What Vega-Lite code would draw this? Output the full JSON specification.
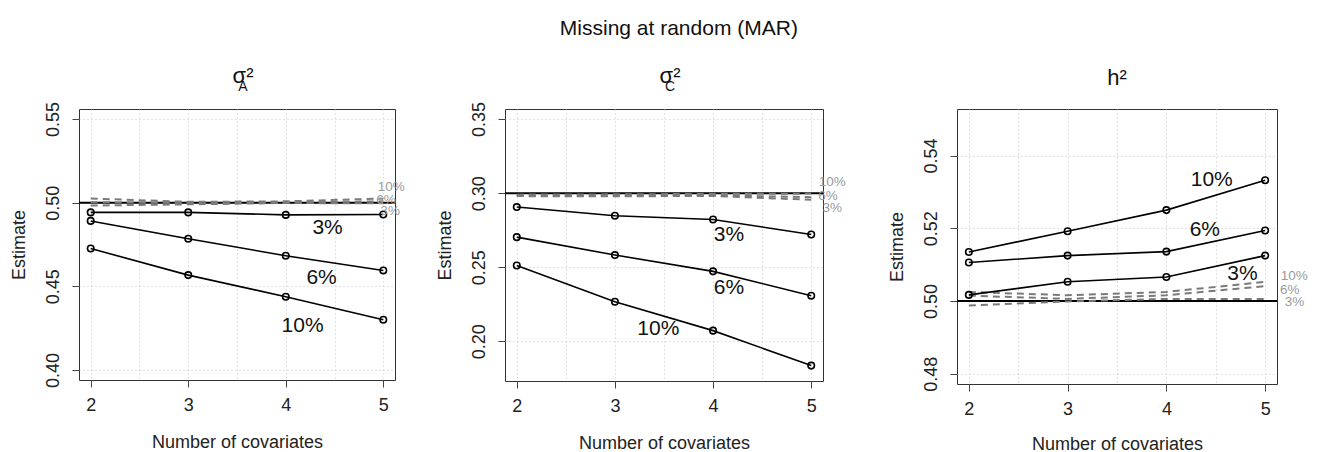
{
  "$schema": "https://vega.github.io/schema/vega-lite/v6.json",
  "padding": {"left": 9, "top": 18, "right": 0, "bottom": 0},
  "background": "white",
  "title": {"text": "Missing at random (MAR)", "fontSize": 21, "fontWeight": "normal", "font": "Liberation Sans", "anchor": "middle", "offset": 25, "dx": 20, "color": "#111"},
  "datasets": {
    "lines": [
      {"p": "A", "t": "solid", "s": "3%", "x": 2, "y": 0.4942},
      {"p": "A", "t": "solid", "s": "3%", "x": 3, "y": 0.4942},
      {"p": "A", "t": "solid", "s": "3%", "x": 4, "y": 0.4927},
      {"p": "A", "t": "solid", "s": "3%", "x": 5, "y": 0.4929},
      {"p": "A", "t": "solid", "s": "6%", "x": 2, "y": 0.4891},
      {"p": "A", "t": "solid", "s": "6%", "x": 3, "y": 0.4784},
      {"p": "A", "t": "solid", "s": "6%", "x": 4, "y": 0.4683},
      {"p": "A", "t": "solid", "s": "6%", "x": 5, "y": 0.4595},
      {"p": "A", "t": "solid", "s": "10%", "x": 2, "y": 0.4726},
      {"p": "A", "t": "solid", "s": "10%", "x": 3, "y": 0.4567},
      {"p": "A", "t": "solid", "s": "10%", "x": 4, "y": 0.4438},
      {"p": "A", "t": "solid", "s": "10%", "x": 5, "y": 0.4300},
      {"p": "A", "t": "dashed", "s": "10%", "x": 2, "y": 0.5025},
      {"p": "A", "t": "dashed", "s": "10%", "x": 3, "y": 0.5005},
      {"p": "A", "t": "dashed", "s": "10%", "x": 4, "y": 0.5008},
      {"p": "A", "t": "dashed", "s": "10%", "x": 5, "y": 0.5025},
      {"p": "A", "t": "dashed", "s": "6%", "x": 2, "y": 0.5003},
      {"p": "A", "t": "dashed", "s": "6%", "x": 3, "y": 0.4998},
      {"p": "A", "t": "dashed", "s": "6%", "x": 4, "y": 0.5002},
      {"p": "A", "t": "dashed", "s": "6%", "x": 5, "y": 0.5008},
      {"p": "A", "t": "dashed", "s": "3%", "x": 2, "y": 0.4983},
      {"p": "A", "t": "dashed", "s": "3%", "x": 3, "y": 0.4990},
      {"p": "A", "t": "dashed", "s": "3%", "x": 4, "y": 0.4998},
      {"p": "A", "t": "dashed", "s": "3%", "x": 5, "y": 0.4996},
      {"p": "C", "t": "solid", "s": "3%", "x": 2, "y": 0.2906},
      {"p": "C", "t": "solid", "s": "3%", "x": 3, "y": 0.2847},
      {"p": "C", "t": "solid", "s": "3%", "x": 4, "y": 0.2822},
      {"p": "C", "t": "solid", "s": "3%", "x": 5, "y": 0.2721},
      {"p": "C", "t": "solid", "s": "6%", "x": 2, "y": 0.2703},
      {"p": "C", "t": "solid", "s": "6%", "x": 3, "y": 0.2582},
      {"p": "C", "t": "solid", "s": "6%", "x": 4, "y": 0.2472},
      {"p": "C", "t": "solid", "s": "6%", "x": 5, "y": 0.2308},
      {"p": "C", "t": "solid", "s": "10%", "x": 2, "y": 0.2512},
      {"p": "C", "t": "solid", "s": "10%", "x": 3, "y": 0.2267},
      {"p": "C", "t": "solid", "s": "10%", "x": 4, "y": 0.2072},
      {"p": "C", "t": "solid", "s": "10%", "x": 5, "y": 0.1836},
      {"p": "C", "t": "dashed", "s": "10%", "x": 2, "y": 0.2990},
      {"p": "C", "t": "dashed", "s": "10%", "x": 3, "y": 0.2992},
      {"p": "C", "t": "dashed", "s": "10%", "x": 4, "y": 0.2995},
      {"p": "C", "t": "dashed", "s": "10%", "x": 5, "y": 0.2997},
      {"p": "C", "t": "dashed", "s": "6%", "x": 2, "y": 0.2983},
      {"p": "C", "t": "dashed", "s": "6%", "x": 3, "y": 0.2983},
      {"p": "C", "t": "dashed", "s": "6%", "x": 4, "y": 0.2985},
      {"p": "C", "t": "dashed", "s": "6%", "x": 5, "y": 0.2973},
      {"p": "C", "t": "dashed", "s": "3%", "x": 2, "y": 0.2980},
      {"p": "C", "t": "dashed", "s": "3%", "x": 3, "y": 0.2979},
      {"p": "C", "t": "dashed", "s": "3%", "x": 4, "y": 0.2981},
      {"p": "C", "t": "dashed", "s": "3%", "x": 5, "y": 0.2955},
      {"p": "H", "t": "solid", "s": "3%", "x": 2, "y": 0.5017},
      {"p": "H", "t": "solid", "s": "3%", "x": 3, "y": 0.5053},
      {"p": "H", "t": "solid", "s": "3%", "x": 4, "y": 0.5066},
      {"p": "H", "t": "solid", "s": "3%", "x": 5, "y": 0.5125},
      {"p": "H", "t": "solid", "s": "6%", "x": 2, "y": 0.5106},
      {"p": "H", "t": "solid", "s": "6%", "x": 3, "y": 0.5125},
      {"p": "H", "t": "solid", "s": "6%", "x": 4, "y": 0.5136},
      {"p": "H", "t": "solid", "s": "6%", "x": 5, "y": 0.5194},
      {"p": "H", "t": "solid", "s": "10%", "x": 2, "y": 0.5135},
      {"p": "H", "t": "solid", "s": "10%", "x": 3, "y": 0.5192},
      {"p": "H", "t": "solid", "s": "10%", "x": 4, "y": 0.5250},
      {"p": "H", "t": "solid", "s": "10%", "x": 5, "y": 0.5332},
      {"p": "H", "t": "dashed", "s": "10%", "x": 2, "y": 0.5025},
      {"p": "H", "t": "dashed", "s": "10%", "x": 3, "y": 0.5016},
      {"p": "H", "t": "dashed", "s": "10%", "x": 4, "y": 0.5025},
      {"p": "H", "t": "dashed", "s": "10%", "x": 5, "y": 0.5053},
      {"p": "H", "t": "dashed", "s": "6%", "x": 2, "y": 0.5015},
      {"p": "H", "t": "dashed", "s": "6%", "x": 3, "y": 0.5006},
      {"p": "H", "t": "dashed", "s": "6%", "x": 4, "y": 0.5016},
      {"p": "H", "t": "dashed", "s": "6%", "x": 5, "y": 0.5041},
      {"p": "H", "t": "dashed", "s": "3%", "x": 2, "y": 0.4988},
      {"p": "H", "t": "dashed", "s": "3%", "x": 3, "y": 0.4999},
      {"p": "H", "t": "dashed", "s": "3%", "x": 4, "y": 0.5006},
      {"p": "H", "t": "dashed", "s": "3%", "x": 5, "y": 0.5006}
    ],
    "labels": [
      {"p": "A", "t": "black", "label": "3%", "x": 4.429, "y": 0.4851},
      {"p": "A", "t": "black", "label": "6%", "x": 4.367, "y": 0.4548},
      {"p": "A", "t": "black", "label": "10%", "x": 4.172, "y": 0.4260},
      {"p": "A", "t": "gray", "label": "10%", "x": 5.082, "y": 0.5096},
      {"p": "A", "t": "gray", "label": "6%", "x": 5.028, "y": 0.5017},
      {"p": "A", "t": "gray", "label": "3%", "x": 5.070, "y": 0.4950},
      {"p": "C", "t": "black", "label": "3%", "x": 4.162, "y": 0.2715},
      {"p": "C", "t": "black", "label": "6%", "x": 4.162, "y": 0.2360},
      {"p": "C", "t": "black", "label": "10%", "x": 3.442, "y": 0.2083},
      {"p": "C", "t": "gray", "label": "10%", "x": 5.214, "y": 0.3072},
      {"p": "C", "t": "gray", "label": "6%", "x": 5.170, "y": 0.2980},
      {"p": "C", "t": "gray", "label": "3%", "x": 5.214, "y": 0.2901},
      {"p": "H", "t": "black", "label": "10%", "x": 4.459, "y": 0.5334},
      {"p": "H", "t": "black", "label": "6%", "x": 4.389, "y": 0.5196},
      {"p": "H", "t": "black", "label": "3%", "x": 4.770, "y": 0.5075},
      {"p": "H", "t": "gray", "label": "10%", "x": 5.294, "y": 0.5069},
      {"p": "H", "t": "gray", "label": "6%", "x": 5.250, "y": 0.5031},
      {"p": "H", "t": "gray", "label": "3%", "x": 5.297, "y": 0.4998}
    ]
  },
  "hconcat": [
    {
      "spacing": 29,
      "hconcat": [
        {
          "width": 316, "height": 271,
          "title": {"text": "σ²", "subtitle": "\u00a0\u00a0\u00a0A", "fontSize": 22, "subtitleFontSize": 14, "subtitlePadding": -8, "offset": 7, "dx": 6, "fontWeight": "normal", "anchor": "middle", "color": "#111", "subtitleColor": "#111"},
          "layer": [
            {"data": {"values": [{}]}, "mark": {"type": "rule", "color": "#000", "strokeWidth": 2},
             "encoding": {"y": {"datum": 0.5, "type": "quantitative", "scale": {"domain": [0.394, 0.556], "nice": false, "zero": false}}}},
            {"data": {"name": "lines"}, "transform": [{"filter": "datum.p == 'A' && datum.t == 'dashed'"}],
             "mark": {"type": "line", "color": "#7a7a7a", "strokeWidth": 2, "strokeDash": [7, 5]},
             "encoding": {
               "x": {"field": "x", "type": "quantitative", "scale": {"domain": [1.88, 5.12], "nice": false, "zero": false},
                     "axis": {"title": "Number of covariates", "values": [2, 2.5, 3, 3.5, 4, 4.5, 5], "labelExpr": "datum.value % 1 == 0 ? format(datum.value, 'd') : ''", "tickOpacity": {"condition": {"test": "datum.value % 1 != 0", "value": 0}, "value": 1}}},
               "y": {"field": "y", "type": "quantitative", "scale": {"domain": [0.394, 0.556], "nice": false, "zero": false},
                     "axis": {"title": "Estimate", "values": [0.40, 0.45, 0.50, 0.55], "format": ".2f"}},
               "detail": {"field": "s"}}},
            {"data": {"name": "lines"}, "transform": [{"filter": "datum.p == 'A' && datum.t == 'solid'"}],
             "mark": {"type": "line", "color": "#000", "strokeWidth": 1.6},
             "encoding": {"x": {"field": "x", "type": "quantitative"}, "y": {"field": "y", "type": "quantitative"}, "detail": {"field": "s"}}},
            {"data": {"name": "lines"}, "transform": [{"filter": "datum.p == 'A' && datum.t == 'solid'"}],
             "mark": {"type": "point", "shape": "circle", "filled": false, "color": "#000", "size": 42, "strokeWidth": 1.6, "opacity": 1},
             "encoding": {"x": {"field": "x", "type": "quantitative"}, "y": {"field": "y", "type": "quantitative"}}},
            {"data": {"name": "labels"}, "transform": [{"filter": "datum.p == 'A' && datum.t == 'black'"}],
             "mark": {"type": "text", "fontSize": 21, "color": "#111", "baseline": "middle", "align": "center"},
             "encoding": {"x": {"field": "x", "type": "quantitative"}, "y": {"field": "y", "type": "quantitative"}, "text": {"field": "label"}}},
            {"data": {"name": "labels"}, "transform": [{"filter": "datum.p == 'A' && datum.t == 'gray'"}],
             "mark": {"type": "text", "fontSize": 13.5, "color": "#9a9a9a", "baseline": "middle", "align": "center"},
             "encoding": {"x": {"field": "x", "type": "quantitative"}, "y": {"field": "y", "type": "quantitative"}, "text": {"field": "label"}}}
          ]
        },
        {
          "width": 318, "height": 272,
          "title": {"text": "σ²", "subtitle": "\u00a0\u00a0\u00a0C", "fontSize": 22, "subtitleFontSize": 14, "subtitlePadding": -8, "offset": 7, "dx": 6, "fontWeight": "normal", "anchor": "middle", "color": "#111", "subtitleColor": "#111"},
          "layer": [
            {"data": {"values": [{}]}, "mark": {"type": "rule", "color": "#000", "strokeWidth": 2},
             "encoding": {"y": {"datum": 0.3, "type": "quantitative", "scale": {"domain": [0.1732, 0.3568], "nice": false, "zero": false}}}},
            {"data": {"name": "lines"}, "transform": [{"filter": "datum.p == 'C' && datum.t == 'dashed'"}],
             "mark": {"type": "line", "color": "#7a7a7a", "strokeWidth": 2, "strokeDash": [7, 5]},
             "encoding": {
               "x": {"field": "x", "type": "quantitative", "scale": {"domain": [1.88, 5.12], "nice": false, "zero": false},
                     "axis": {"title": "Number of covariates", "values": [2, 2.5, 3, 3.5, 4, 4.5, 5], "labelExpr": "datum.value % 1 == 0 ? format(datum.value, 'd') : ''", "tickOpacity": {"condition": {"test": "datum.value % 1 != 0", "value": 0}, "value": 1}}},
               "y": {"field": "y", "type": "quantitative", "scale": {"domain": [0.1732, 0.3568], "nice": false, "zero": false},
                     "axis": {"title": "Estimate", "values": [0.20, 0.25, 0.30, 0.35], "format": ".2f"}},
               "detail": {"field": "s"}}},
            {"data": {"name": "lines"}, "transform": [{"filter": "datum.p == 'C' && datum.t == 'solid'"}],
             "mark": {"type": "line", "color": "#000", "strokeWidth": 1.6},
             "encoding": {"x": {"field": "x", "type": "quantitative"}, "y": {"field": "y", "type": "quantitative"}, "detail": {"field": "s"}}},
            {"data": {"name": "lines"}, "transform": [{"filter": "datum.p == 'C' && datum.t == 'solid'"}],
             "mark": {"type": "point", "shape": "circle", "filled": false, "color": "#000", "size": 42, "strokeWidth": 1.6, "opacity": 1},
             "encoding": {"x": {"field": "x", "type": "quantitative"}, "y": {"field": "y", "type": "quantitative"}}},
            {"data": {"name": "labels"}, "transform": [{"filter": "datum.p == 'C' && datum.t == 'black'"}],
             "mark": {"type": "text", "fontSize": 21, "color": "#111", "baseline": "middle", "align": "center"},
             "encoding": {"x": {"field": "x", "type": "quantitative"}, "y": {"field": "y", "type": "quantitative"}, "text": {"field": "label"}}},
            {"data": {"name": "labels"}, "transform": [{"filter": "datum.p == 'C' && datum.t == 'gray'"}],
             "mark": {"type": "text", "fontSize": 13.5, "color": "#9a9a9a", "baseline": "middle", "align": "center"},
             "encoding": {"x": {"field": "x", "type": "quantitative"}, "y": {"field": "y", "type": "quantitative"}, "text": {"field": "label"}}}
          ]
        }
      ]
    },
    {
      "width": 320, "height": 275,
      "title": {"text": "h²", "fontSize": 22, "offset": 19, "fontWeight": "normal", "anchor": "middle", "color": "#111"},
      "layer": [
        {"data": {"values": [{}]}, "mark": {"type": "rule", "color": "#000", "strokeWidth": 2},
         "encoding": {"y": {"datum": 0.5, "type": "quantitative", "scale": {"domain": [0.4772, 0.5528], "nice": false, "zero": false}}}},
        {"data": {"name": "lines"}, "transform": [{"filter": "datum.p == 'H' && datum.t == 'dashed'"}],
         "mark": {"type": "line", "color": "#7a7a7a", "strokeWidth": 2, "strokeDash": [7, 5]},
         "encoding": {
           "x": {"field": "x", "type": "quantitative", "scale": {"domain": [1.88, 5.12], "nice": false, "zero": false},
                 "axis": {"title": "Number of covariates", "titlePadding": 17, "values": [2, 2.5, 3, 3.5, 4, 4.5, 5], "labelExpr": "datum.value % 1 == 0 ? format(datum.value, 'd') : ''", "tickOpacity": {"condition": {"test": "datum.value % 1 != 0", "value": 0}, "value": 1}}},
           "y": {"field": "y", "type": "quantitative", "scale": {"domain": [0.4772, 0.5528], "nice": false, "zero": false},
                 "axis": {"title": "Estimate", "values": [0.48, 0.49, 0.50, 0.51, 0.52, 0.53, 0.54, 0.55], "labelExpr": "round(datum.value * 100) % 2 == 0 ? format(datum.value, '.2f') : ''"}},
           "detail": {"field": "s"}}},
        {"data": {"name": "lines"}, "transform": [{"filter": "datum.p == 'H' && datum.t == 'solid'"}],
         "mark": {"type": "line", "color": "#000", "strokeWidth": 1.6},
         "encoding": {"x": {"field": "x", "type": "quantitative"}, "y": {"field": "y", "type": "quantitative"}, "detail": {"field": "s"}}},
        {"data": {"name": "lines"}, "transform": [{"filter": "datum.p == 'H' && datum.t == 'solid'"}],
         "mark": {"type": "point", "shape": "circle", "filled": false, "color": "#000", "size": 42, "strokeWidth": 1.6, "opacity": 1},
         "encoding": {"x": {"field": "x", "type": "quantitative"}, "y": {"field": "y", "type": "quantitative"}}},
        {"data": {"name": "labels"}, "transform": [{"filter": "datum.p == 'H' && datum.t == 'black'"}],
         "mark": {"type": "text", "fontSize": 21, "color": "#111", "baseline": "middle", "align": "center"},
         "encoding": {"x": {"field": "x", "type": "quantitative"}, "y": {"field": "y", "type": "quantitative"}, "text": {"field": "label"}}},
        {"data": {"name": "labels"}, "transform": [{"filter": "datum.p == 'H' && datum.t == 'gray'"}],
         "mark": {"type": "text", "fontSize": 13.5, "color": "#9a9a9a", "baseline": "middle", "align": "center"},
         "encoding": {"x": {"field": "x", "type": "quantitative"}, "y": {"field": "y", "type": "quantitative"}, "text": {"field": "label"}}}
      ]
    }
  ],
  "spacing": 40,
  "config": {
    "font": "Liberation Sans",
    "view": {"stroke": "#333", "strokeWidth": 1},
    "axis": {"labelFont": "Liberation Sans", "titleFont": "Liberation Sans", "labelFontSize": 18, "titleFontSize": 18, "titleFontWeight": "normal", "labelColor": "#222", "titleColor": "#222", "tickColor": "#444", "tickSize": 7, "domain": false, "grid": true, "gridColor": "#c4c4c4", "gridDash": [1, 3], "gridWidth": 1},
    "axisX": {"labelPadding": 9, "titlePadding": 19},
    "axisY": {"labelAngle": -90, "labelPadding": 10, "titlePadding": 16},
    "title": {"font": "Liberation Sans", "subtitleFont": "Liberation Sans"}
  }
}
